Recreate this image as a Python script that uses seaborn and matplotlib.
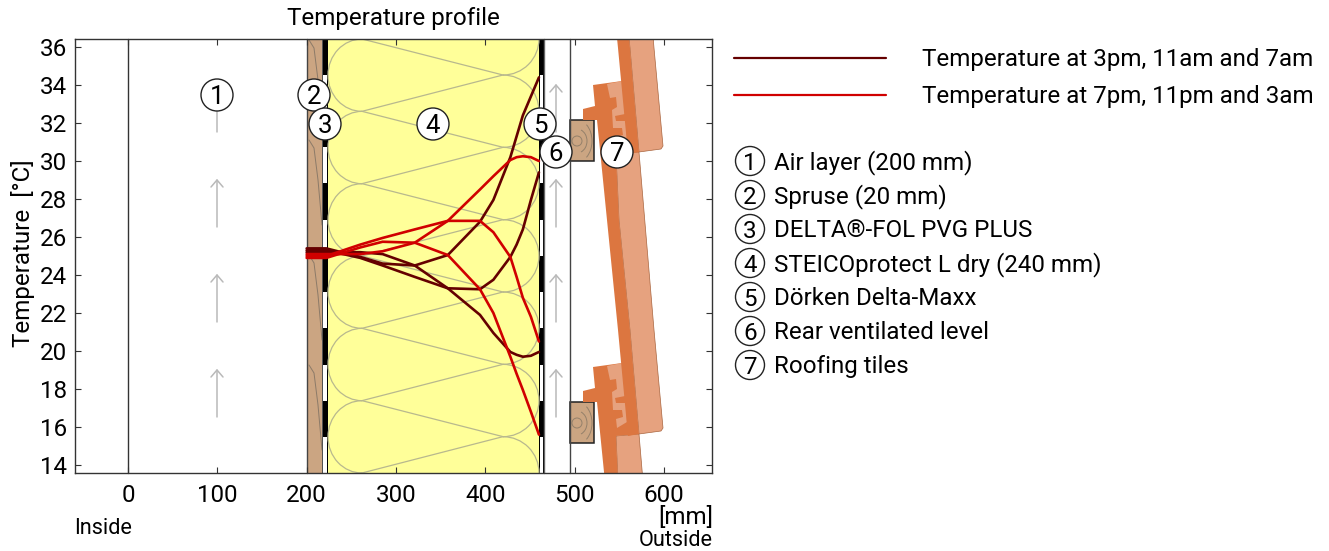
import numpy as np
import pandas as pd
import matplotlib
matplotlib.use('Agg')
import matplotlib.pyplot as plt
import seaborn as sns
from matplotlib.patches import Arc, Circle, Polygon, Rectangle

sns.set_style('ticks')
plt.rcParams['font.family'] = ['Roboto', 'DejaVu Sans']
plt.rcParams['text.color'] = 'black'
plt.rcParams['xtick.labelcolor'] = 'black'
plt.rcParams['ytick.labelcolor'] = 'black'

# Temperature curves, position through the roof in mm
depth_mm = [200, 222, 260, 285, 321, 358, 394, 409, 428, 435, 442, 451, 460]
temp_3pm = [25.4, 25.4, 24.95, 24.6, 24.5, 25.05, 26.8, 27.95, 30.2, 31.3, 32.4, 33.4, 34.4]
temp_11am = [25.3, 25.3, 24.9, 24.5, 23.9, 23.3, 23.25, 23.75, 24.95, 25.6, 26.4, 27.95, 29.4]
temp_7am = [25.2, 25.2, 25.2, 25.1, 24.5, 23.3, 21.9, 20.95, 19.95, 19.8, 19.7, 19.75, 19.95]
temp_7pm = [25.1, 25.1, 25.1, 25.25, 25.7, 26.85, 28.5, 29.2, 30.05, 30.2, 30.25, 30.2, 30.0]
temp_11pm = [25.0, 25.0, 25.6, 25.95, 26.4, 26.85, 26.85, 26.25, 24.95, 23.9, 22.8, 21.8, 20.5]
temp_3am = [24.9, 24.9, 25.45, 25.75, 25.7, 25.05, 23.25, 22.0, 19.7, 18.8, 17.95, 16.8, 15.6]

x_ticks = [0, 100, 200, 300, 400, 500, 600]
y_ticks = list(range(14, 37, 2))
layers = ['Air layer (200 mm)', 'Spruse (20 mm)', 'DELTA®-FOL PVG PLUS',
          'STEICOprotect L dry (240 mm)', 'Dörken Delta-Maxx',
          'Rear ventilated level', 'Roofing tiles']
legend_labels = ['Temperature at 3pm, 11am and 7am',
                 'Temperature at 7pm, 11pm and 3am']

DARK = '#650000'
RED = '#d00000'
WOOD = '#cba582'
YELLOW = '#ffff99'
TILE_DARK = '#dc7640'
TILE_LIGHT = '#e6a27f'
FS = 17.4

fig = plt.figure(figsize=(13.29, 5.51), dpi=100)


def pixel_axes(order):
    a = fig.add_axes([0, 0, 1, 1], zorder=order)
    a.set_xlim(0, 1329)
    a.set_ylim(551, 0)
    a.axis('off')
    return a


bg = pixel_axes(0)
fg = pixel_axes(2)
ax = fig.add_axes([75 / 1329, 1 - 473 / 551, 637 / 1329, 434 / 551], zorder=1)
ax.patch.set_alpha(0)

frame = Rectangle((75, 39), 637, 434, transform=bg.transData)


def add(p):
    bg.add_patch(p)
    p.set_clip_path(frame)
    return p


def stroke(xs, ys, **kw):
    line, = bg.plot(xs, ys, **kw)
    line.set_clip_path(frame)


# wall layers
add(Rectangle((307, 39), 15, 434, fc=WOOD, ec='none'))
add(Rectangle((328, 39), 211, 434, fc=YELLOW, ec='none'))
add(Rectangle((322, 39), 5.5, 434, fc='black', ec='none'))
add(Rectangle((539, 39), 4.5, 434, fc='black', ec='none'))
for start in [75, 147, 220, 292, 365, 437]:
    add(Rectangle((323, start), 3.5, 36, fc='white', ec='none'))
    add(Rectangle((540, start), 3, 36, fc='white', ec='none'))

# wood grain in the spruce layer
for top in [30, 130, 245, 355]:
    stroke([309, 314, 318, 322], [top + 10, top + 18, top + 50, top + 95], color='#8c7a68', lw=0.7)

# insulation fibre pattern
fibre = dict(color='#b8b88e', lw=0.9)
left_nodes = [39 + 72.33 * k for k in range(-1, 7)]
right_nodes = [75 + 72.33 * k for k in range(-1, 7)]
for yl, yr in zip(left_nodes, right_nodes):
    stroke([362, 503], [yl, yr], **fibre)
    stroke([362, 503], [yl, yr - 72.33], **fibre)
    add(Arc((362, yl + 36.2), 68, 72.33, theta1=90, theta2=270, **fibre))
    add(Arc((503, yr + 36.2), 72, 72.33, theta1=-90, theta2=90, **fibre))

# layer boundaries
for xp, col in [(128, '#333333'), (307, '#444444'), (543.5, '#666666'), (570, '#444444')]:
    bg.plot([xp, xp], [39, 473], color=col, lw=1.0)
bg.plot([322, 322], [39, 473], color='#555555', lw=0.7)

# air flow arrows
for xp, tips in [(217, [85, 180, 275, 370]), (556, [85, 180, 275, 370])]:
    for tip in tips:
        bg.plot([xp, xp], [tip, tip + 47], color='#b9b9b9', lw=1.1)
        bg.plot([xp - 6, xp, xp + 6], [tip + 7, tip, tip + 7], color='#b9b9b9', lw=1.1)

# roof battens
for top in [120, 402]:
    batten = add(Rectangle((570, top), 24, 41, fc=WOOD, ec='#222222', lw=1.1))
    for ring in [Circle((577, top + 21), 5, fc='none', ec='#94806a', lw=0.7),
                 Arc((577, top + 21), 20, 24, theta1=-70, theta2=70, color='#94806a', lw=0.7),
                 Arc((577, top + 21), 30, 42, theta1=-60, theta2=60, color='#94806a', lw=0.7)]:
        bg.add_patch(ring)
        ring.set_clip_path(batten)

# roofing tiles, one shape repeated up the slope
tile_light = [(616, 436), (639, 434), (654, 612), (663, 710), (661, 713), (639, 716), (630, 612), (619, 502)]
tile_dark = [(593, 367), (622, 363), (630, 420), (639, 434), (616, 436), (619, 502), (630, 612),
             (639, 716), (628, 718), (618, 612), (607, 502), (597, 402), (583, 402), (583, 391), (595, 388)]
tile_inner = [(607, 366), (622, 363), (625, 396), (615, 398), (616, 403), (626, 403), (627, 422),
              (617, 428), (616, 419), (623, 417), (622, 410), (613, 410), (612, 392), (617, 389),
              (616, 379), (610, 380)]
for dy in [0, -282, -564]:
    add(Polygon([(x, y + dy) for x, y in tile_light], fc=TILE_LIGHT, ec='#a9653f', lw=0.5))
    add(Polygon([(x, y + dy) for x, y in tile_dark], fc=TILE_DARK, ec='none'))
    add(Polygon([(x, y + dy) for x, y in tile_inner], fc=TILE_LIGHT, ec='none'))

# temperature curves
curves = pd.DataFrame({
    'depth': depth_mm * 6,
    'temp': temp_3pm + temp_11am + temp_7am + temp_7pm + temp_11pm + temp_3am,
    'curve': np.repeat(['3pm', '11am', '7am', '7pm', '11pm', '3am'], len(depth_mm)),
})
sns.lineplot(data=curves, x='depth', y='temp', hue='curve',
             palette={'3pm': DARK, '11am': DARK, '7am': DARK, '7pm': RED, '11pm': RED, '3am': RED},
             estimator=None, sort=False, legend=False, lw=1.9, ax=ax)

ax.set_xlim(-59.3, 653.7)
ax.set_ylim(13.58, 36.42)
ax.set_xticks(x_ticks)
ax.set_yticks(y_ticks)
ax.tick_params(direction='in', top=True, right=True, length=4, width=0.8, color='#333333',
               labelsize=FS, pad=6)
ax.tick_params(axis='x', pad=8)
for s in ax.spines.values():
    s.set_visible(True)
    s.set_linewidth(1.0)
    s.set_color('#333333')
ax.set_xlabel('')
ax.set_ylabel('')

# text around the axes
fg.text(393, 18.5, 'Temperature profile', ha='center', va='center', fontsize=FS)
fg.text(23, 253, 'Temperature  [°C]', ha='center', va='center', rotation=90, fontsize=FS)
fg.text(74, 528, 'Inside', ha='left', va='center', fontsize=15.6)
fg.text(713, 518, '[mm]', ha='right', va='center', fontsize=FS)
fg.text(713, 541, 'Outside', ha='right', va='center', fontsize=15.6)

# numbered markers on the section
spots = [(217, 95), (314, 95), (325, 124), (433, 124), (540, 124), (556, 152), (617, 152)]
for i, (xp, yp) in enumerate(spots):
    fg.add_patch(Circle((xp, yp), 16, fc='white', ec='#222222', lw=1.0))
    fg.text(xp, yp + 9, str(i + 1), ha='center', va='baseline', fontsize=18.5)

# legend
for yp, col, label in zip([58, 95], [DARK, RED], legend_labels):
    fg.plot([734, 886], [yp, yp], color=col, lw=1.6)
    fg.text(922, yp + 8, label, ha='left', va='baseline', fontsize=FS)
for i, label in enumerate(layers):
    yp = 161 + 34 * i
    fg.add_patch(Circle((750, yp), 14.5, fc='white', ec='#222222', lw=1.0))
    fg.text(750, yp + 8.5, str(i + 1), ha='center', va='baseline', fontsize=FS)
    fg.text(774, yp + 8, label, ha='left', va='baseline', fontsize=FS)

fig.savefig('out.png', dpi=100)
